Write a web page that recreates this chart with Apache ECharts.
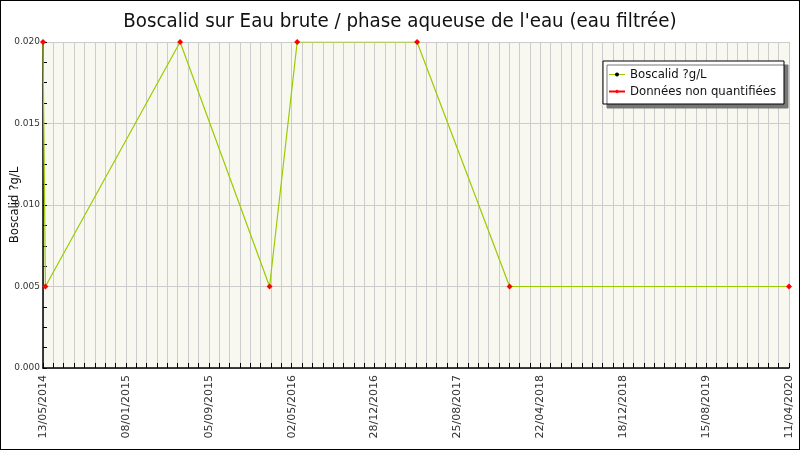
<!DOCTYPE html>
<html>
<head>
<meta charset="utf-8">
<script src="https://cdn.jsdelivr.net/npm/echarts@6/dist/echarts.min.js"></script>
<style>
  html, body { margin: 0; padding: 0; background: #fff; }
  #chart { width: 800px; height: 450px; box-sizing: border-box; border: 1px solid #000; }
</style>
</head>
<body>
<div id="chart"></div>
<script>
// données
var startDate = '2014-05-13';
var sampleDates = ['2014-05-13', '2014-05-20', '2015-06-14', '2016-02-28', '2016-05-18', '2017-04-30', '2018-01-23', '2020-04-11'];
var sampleValues = [0.020, 0.005, 0.020, 0.005, 0.020, 0.020, 0.005, 0.005];
// tous les points sont "non quantifiés"
var nonQuantified = [true, true, true, true, true, true, true, true];
var yTicks = [0, 0.005, 0.010, 0.015, 0.020];

var DAY = 86400000;
function toUtc(s) {
    var p = s.split('-');
    return Date.UTC(+p[0], +p[1] - 1, +p[2]);
}
var t0 = toUtc(startDate);
function dayOffset(s) { return Math.round((toUtc(s) - t0) / DAY); }
function fmtDate(d) {
    var date = new Date(t0 + d * DAY);
    var dd = date.getUTCDate(), mm = date.getUTCMonth() + 1;
    return (dd < 10 ? '0' + dd : dd) + '/' + (mm < 10 ? '0' + mm : mm) + '/' + date.getUTCFullYear();
}

var lineData = [], nqData = [];
for (var i = 0; i < sampleDates.length; i++) {
    lineData.push([dayOffset(sampleDates[i]), sampleValues[i]]);
    if (nonQuantified[i]) nqData.push([dayOffset(sampleDates[i]), sampleValues[i]]);
}

var font = 'DejaVu Sans Condensed';
var myChart = echarts.init(document.getElementById('chart'));
var option = {
    animation: false,
    backgroundColor: '#fff',
    textStyle: { fontFamily: font },
    title: {
        text: "Boscalid sur Eau brute / phase aqueuse de l'eau (eau filtrée)",
        left: 'center',
        top: 6,
        textStyle: { fontFamily: font, fontSize: 20.3, fontWeight: 'normal', color: '#111' }
    },
    legend: {
        orient: 'vertical',
        right: 15,
        top: 60,
        padding: [7, 8, 6, 5],
        itemGap: 4,
        itemWidth: 16,
        itemHeight: 5,
        backgroundColor: '#fff',
        borderColor: '#000',
        borderWidth: 1,
        shadowColor: '#777',
        shadowBlur: 0,
        shadowOffsetX: 4,
        shadowOffsetY: 4,
        textStyle: { fontFamily: font, fontSize: 13, color: '#111' },
        data: [
            { name: 'Boscalid ?g/L', lineStyle: { color: '#99cc00', width: 1 }, itemStyle: { color: '#000' } },
            { name: 'Données non quantifiées', lineStyle: { color: '#ff0000', width: 2, opacity: 1 }, itemStyle: { color: '#ff0000' } }
        ]
    },
    grid: {
        left: 42,
        right: 10,
        top: 41,
        bottom: 81,
        outerBoundsMode: 'none',
        containLabel: false,
        show: true,
        backgroundColor: '#f8f8f0',
        borderWidth: 0
    },
    xAxis: {
        type: 'value',
        min: 0,
        max: 2160,
        interval: 30,
        axisLine: { lineStyle: { color: '#000', width: 1.5 } },
        axisTick: { inside: true, length: 5, lineStyle: { color: '#000' } },
        splitLine: { show: true, lineStyle: { color: '#cccccc', width: 1 } },
        axisLabel: {
            rotate: 90,
            fontSize: 11,
            color: '#333',
            fontFamily: 'DejaVu Sans',
            margin: 7,
            showMinLabel: true,
            showMaxLabel: true,
            formatter: function (v) { return v % 240 === 0 ? fmtDate(v) : ''; }
        }
    },
    yAxis: {
        type: 'value',
        min: yTicks[0],
        max: yTicks[yTicks.length - 1],
        interval: 0.005,
        name: 'Boscalid ?g/L',
        nameLocation: 'middle',
        nameGap: 22,
        nameMoveOverlap: false,
        nameTextStyle: { fontFamily: font, fontSize: 13, color: '#111' },
        axisLine: { show: true, lineStyle: { color: '#000', width: 1.5 } },
        axisTick: { show: true, inside: true, length: 4, lineStyle: { color: '#000' } },
        minorTick: { show: true, splitNumber: 4, length: 4, lineStyle: { color: '#000' } },
        splitLine: { show: true, lineStyle: { color: '#cccccc', width: 1 } },
        axisLabel: {
            fontSize: 9,
            color: '#333',
            fontFamily: 'DejaVu Sans',
            margin: 3,
            formatter: function (v) { return v.toFixed(3); }
        }
    },
    series: [
        {
            name: 'Boscalid ?g/L',
            type: 'line',
            data: lineData,
            symbol: 'circle',
            symbolSize: 2,
            itemStyle: { color: '#000' },
            lineStyle: { color: '#99cc00', width: 1.2 },
            z: 2
        },
        {
            name: 'Données non quantifiées',
            type: 'line',
            data: nqData,
            symbol: 'diamond',
            symbolSize: 6,
            itemStyle: { color: '#ff0000' },
            lineStyle: { opacity: 0, width: 0 },
            z: 3
        }
    ]
};
myChart.setOption(option);
</script>
</body>
</html>
